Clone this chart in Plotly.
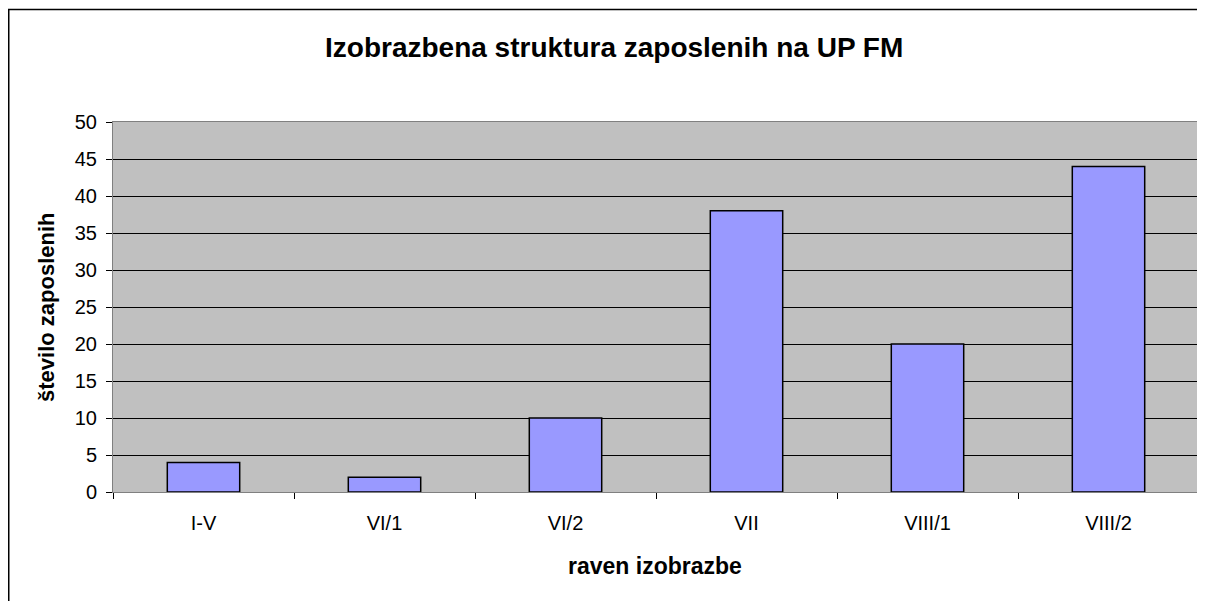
import plotly.graph_objects as go

categories = ["I-V", "VI/1", "VI/2", "VII", "VIII/1", "VIII/2"]
values = [4, 2, 10, 38, 20, 44]
y_ticks = [0, 5, 10, 15, 20, 25, 30, 35, 40, 45, 50]

title_text = "Izobrazbena struktura zaposlenih na UP FM"
x_title = "raven izobrazbe"
y_title = "število zaposlenih"

# page has an 8px body margin; figure sized so it fills the window
OFF = 8
W, H = 1205 - OFF, 601 - OFF
L, T = 113 - OFF, 122 - OFF
R = W - (1199 - OFF)
B = H - (492 - OFF)
pw, ph = W - L - R, H - T - B

def px(x):  # page pixel -> paper x
    return (x - OFF - L) / pw

def py(y):  # page pixel -> paper y
    return (H - B - (y - OFF)) / ph

FONT = "Liberation Sans, Arial, sans-serif"

fig = go.Figure(
    go.Bar(
        x=categories,
        y=values,
        marker=dict(color="#9999FF", line=dict(color="black", width=1.5)),
        width=0.4,
    )
)

fig.update_layout(
    width=W,
    height=H,
    margin=dict(l=L, r=R, t=T, b=B),
    paper_bgcolor="white",
    plot_bgcolor="#C0C0C0",
    showlegend=False,
    font=dict(family=FONT, color="black", size=20),
    xaxis=dict(
        showgrid=False,
        ticks="outside",
        tickson="boundaries",
        ticklen=6,
        tickcolor="black",
        showline=True,
        linecolor="#808080",
        linewidth=1,
        mirror=True,
        tickfont=dict(size=20),
        ticklabelstandoff=13,
    ),
    yaxis=dict(
        range=[0, 50],
        tickvals=y_ticks,
        showgrid=True,
        gridcolor="black",
        gridwidth=1,
        zeroline=False,
        ticks="outside",
        ticklen=6,
        tickcolor="black",
        showline=True,
        linecolor="#808080",
        linewidth=1,
        mirror=True,
        tickfont=dict(size=20),
        ticklabelstandoff=5,
    ),
    shapes=[
        dict(
            type="rect", xref="paper", yref="paper",
            x0=px(8.75), x1=px(1215), y0=py(9.5), y1=py(612),
            line=dict(color="black", width=1.5), fillcolor="rgba(0,0,0,0)",
            layer="below",
        )
    ],
    annotations=[
        dict(text=f"<b>{title_text}</b>", xref="paper", yref="paper",
             x=px(614), y=py(47), xanchor="center", yanchor="middle",
             showarrow=False, font=dict(size=28)),
        dict(text=f"<b>{x_title}</b>", xref="paper", yref="paper",
             x=px(655), y=py(566), xanchor="center", yanchor="middle",
             showarrow=False, font=dict(size=23)),
        dict(text=f"<b>{y_title}</b>", xref="paper", yref="paper",
             x=px(46), y=py(307), xanchor="center", yanchor="middle",
             textangle=-90, showarrow=False, font=dict(size=22)),
    ],
)

fig.write_html("out.html")
